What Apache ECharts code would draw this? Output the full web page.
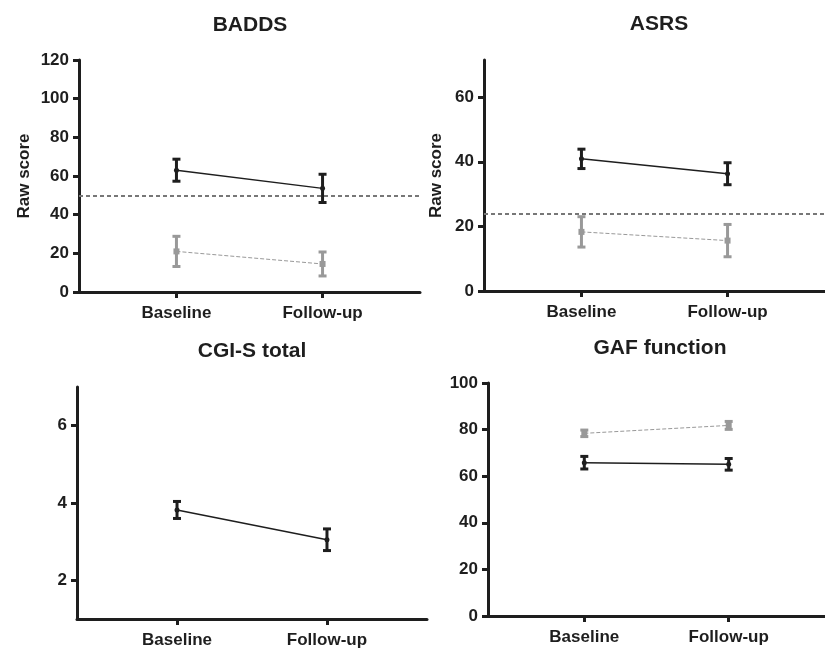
<!DOCTYPE html>
<html>
<head>
<meta charset="utf-8">
<script src="https://cdn.jsdelivr.net/npm/echarts@6/dist/echarts.min.js"></script>
<style>
  html, body { margin: 0; padding: 0; background: #fff; }
  #main { width: 825px; height: 649px; }
</style>
</head>
<body>
<div id="main"></div>
<script>
var timepoints = ['Baseline', 'Follow-up'];

// BADDS
var baddsPatientMean = [63.0, 53.6];
var baddsPatientErr = [5.7, 7.3];
var baddsControlMean = [21.0, 14.5];
var baddsControlErr = [7.8, 6.2];
var baddsCutoff = 50;

// ASRS
var asrsPatientMean = [40.9, 36.3];
var asrsPatientErr = [3.0, 3.4];
var asrsControlMean = [18.3, 15.6];
var asrsControlErr = [4.7, 5.0];
var asrsCutoff = 24;

// CGI-S
var cgiMean = [3.82, 3.05];
var cgiErr = [0.22, 0.28];

// GAF
var gafPatientMean = [65.8, 65.1];
var gafPatientErr = [2.7, 2.5];
var gafControlMean = [78.4, 81.8];
var gafControlErr = [1.4, 1.7];

var FONT = 'Liberation Sans';
var INK = '#1e1e1e';
var GREY = '#999999';

function pts(mean) {
    return mean.map(function (m, i) { return [i, m]; });
}
function bars(mean, err) {
    return mean.map(function (m, i) { return [i, m, err[i]]; });
}

function errorSeries(idx, mean, err, color) {
    return {
        type: 'custom',
        xAxisIndex: idx,
        yAxisIndex: idx,
        z: 3,
        data: bars(mean, err),
        renderItem: function (params, api) {
            var x = api.value(0), m = api.value(1), e = api.value(2);
            var top = api.coord([x, m + e]);
            var bot = api.coord([x, m - e]);
            var w = 4;
            var st = { stroke: color, lineWidth: 3 };
            return {
                type: 'group',
                children: [
                    { type: 'line', shape: { x1: top[0], y1: top[1], x2: bot[0], y2: bot[1] }, style: st },
                    { type: 'line', shape: { x1: top[0] - w, y1: top[1], x2: top[0] + w, y2: top[1] }, style: st },
                    { type: 'line', shape: { x1: bot[0] - w, y1: bot[1], x2: bot[0] + w, y2: bot[1] }, style: st }
                ]
            };
        }
    };
}

function meanSeries(idx, mean, kind, cutoff) {
    var s = {
        type: 'line',
        xAxisIndex: idx,
        yAxisIndex: idx,
        z: 4,
        data: pts(mean),
        animation: false
    };
    if (kind === 'patient') {
        s.symbol = 'circle';
        s.symbolSize = 5;
        s.itemStyle = { color: INK };
        s.lineStyle = { color: INK, width: 1.5 };
    } else {
        s.symbol = 'rect';
        s.symbolSize = 6;
        s.itemStyle = { color: GREY };
        s.lineStyle = { color: GREY, width: 1, type: [4, 2] };
    }
    if (cutoff != null) {
        s.markLine = {
            silent: true,
            symbol: 'none',
            label: { show: false },
            lineStyle: { color: '#777', width: 2, type: [4, 3] },
            data: [{ yAxis: cutoff }]
        };
    }
    return s;
}

var grids = [
    { left: 79, top: 60, width: 341, height: 232 },
    { left: 484, top: 60, width: 351, height: 231 },
    { left: 77, top: 387, width: 350, height: 232 },
    { left: 488, top: 383, width: 345, height: 233 }
];

function xAxisFor(idx) {
    return {
        type: 'value',
        gridIndex: idx,
        min: -0.667,
        max: 1.667,
        splitLine: { show: false },
        axisLine: { onZero: false, lineStyle: { color: INK, width: 3 } },
        axisTick: { length: 6, lineStyle: { color: INK, width: 3 }, customValues: [0, 1] },
        axisLabel: {
            customValues: [0, 1],
            margin: 13,
            color: INK,
            fontFamily: FONT,
            fontWeight: 'bold',
            fontSize: 17,
            formatter: function (v) { return timepoints[Math.round(v)]; }
        }
    };
}

function yAxisFor(idx, min, max, ticks, name, gap) {
    return {
        type: 'value',
        gridIndex: idx,
        min: min,
        max: max,
        name: name,
        nameLocation: 'middle',
        nameGap: gap,
        nameTextStyle: { color: INK, fontFamily: FONT, fontWeight: 'bold', fontSize: 17 },
        splitLine: { show: false },
        axisLine: { onZero: false, lineStyle: { color: INK, width: 3 } },
        axisTick: { length: 6, lineStyle: { color: INK, width: 3 }, customValues: ticks },
        axisLabel: {
            customValues: ticks,
            margin: 10,
            color: INK,
            fontFamily: FONT,
            fontWeight: 'bold',
            fontSize: 17
        }
    };
}

function titleAt(text, x, y) {
    return {
        text: text,
        left: x,
        top: y,
        textAlign: 'center',
        padding: 0,
        textStyle: { color: INK, fontFamily: FONT, fontWeight: 'bold', fontSize: 21 }
    };
}

var option = {
    backgroundColor: '#fff',
    animation: false,
    title: [
        titleAt('BADDS', 250, 15),
        titleAt('ASRS', 659, 14),
        titleAt('CGI-S total', 252, 341),
        titleAt('GAF function', 660, 338)
    ],
    grid: grids,
    xAxis: [xAxisFor(0), xAxisFor(1), xAxisFor(2), xAxisFor(3)],
    yAxis: [
        yAxisFor(0, 0, 120, [0, 20, 40, 60, 80, 100, 120], 'Raw score', 46),
        yAxisFor(1, 0, 71.5, [0, 20, 40, 60], 'Raw score', 39),
        yAxisFor(2, 1, 7, [2, 4, 6], '', 40),
        yAxisFor(3, 0, 100, [0, 20, 40, 60, 80, 100], '', 40)
    ],
    series: [
        errorSeries(0, baddsPatientMean, baddsPatientErr, INK),
        errorSeries(0, baddsControlMean, baddsControlErr, GREY),
        meanSeries(0, baddsPatientMean, 'patient', baddsCutoff),
        meanSeries(0, baddsControlMean, 'control'),

        errorSeries(1, asrsPatientMean, asrsPatientErr, INK),
        errorSeries(1, asrsControlMean, asrsControlErr, GREY),
        meanSeries(1, asrsPatientMean, 'patient', asrsCutoff),
        meanSeries(1, asrsControlMean, 'control'),

        errorSeries(2, cgiMean, cgiErr, INK),
        meanSeries(2, cgiMean, 'patient'),

        errorSeries(3, gafPatientMean, gafPatientErr, INK),
        errorSeries(3, gafControlMean, gafControlErr, GREY),
        meanSeries(3, gafPatientMean, 'patient'),
        meanSeries(3, gafControlMean, 'control')
    ]
};

var chart = echarts.init(document.getElementById('main'));
chart.setOption(option);
</script>
</body>
</html>
